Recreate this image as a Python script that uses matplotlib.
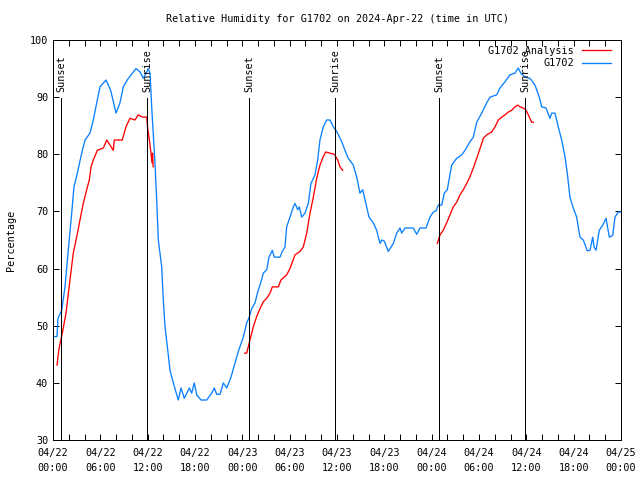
import matplotlib
matplotlib.use("Agg")
import matplotlib.pyplot as plt

# ---- data (hours since 2024-04-22 00:00 UTC) ----
obs_hours = [0.0, 0.51, 0.63, 1.10, 1.52, 1.90, 2.37, 2.66, 3.08, 3.64, 4.06, 4.69, 5.11, 5.54, 5.96,
             6.72, 7.31, 7.99, 8.49, 8.91, 9.55, 10.52, 11.03, 11.45, 11.88, 12.08, 12.30, 12.51,
             12.68, 12.93, 13.14, 13.35, 13.78, 13.98, 14.20, 14.54, 14.83, 15.25, 15.88, 16.23,
             16.64, 17.28, 17.58, 17.91, 18.22, 18.76, 19.48, 20.12, 20.45, 20.75, 21.17, 21.59,
             22.02, 22.56, 23.07, 23.49, 24.12, 24.55, 24.85, 25.19, 25.61, 25.95, 26.37, 26.66,
             27.09, 27.38, 27.80, 28.05, 28.77, 29.07, 29.41, 29.62, 30.04, 30.46, 30.68, 31.02,
             31.22, 31.53, 31.94, 32.36, 32.70, 33.21, 33.55, 33.84, 34.26, 34.69, 35.11, 35.53,
             35.96, 36.60, 37.01, 37.43, 38.07, 38.50, 38.91, 39.26, 39.76, 40.06, 40.60, 41.03,
             41.45, 41.67, 42.00, 42.50, 43.14, 43.57, 43.99, 44.20, 44.62, 45.67, 46.10, 46.52,
             47.28, 47.79, 48.21, 48.55, 48.84, 49.27, 49.60, 49.98, 50.54, 51.17, 51.81, 52.23,
             52.86, 53.28, 53.71, 54.34, 54.98, 55.39, 56.24, 56.66, 57.30, 57.93, 58.56, 58.98,
             59.29, 59.83, 60.46, 61.10, 61.64, 61.95, 62.49, 63.00, 63.21, 63.63, 64.05, 64.48,
             64.90, 65.19, 65.53, 65.95, 66.38, 66.80, 67.22, 67.73, 68.07, 68.41, 68.58, 68.83,
             69.25, 69.68, 70.10, 70.52, 70.95, 71.24, 71.66, 71.96]
obs_rh = [48.1, 48.1, 51.3, 52.7, 56.8, 62.7, 69.7, 74.3, 76.7, 80.2, 82.5, 83.7, 86.0, 89.0, 91.8,
          93.0, 91.2, 87.2, 89.0, 91.8, 93.3, 95.0, 94.4, 93.3, 94.4, 95.0, 94.2, 88.3,
          84.2, 78.4, 72.0, 65.0, 60.3, 54.5, 49.8, 45.8, 42.2, 40.0, 37.0, 39.1,
          37.3, 39.1, 38.2, 40.0, 37.9, 37.0, 37.0, 38.2, 39.1, 38.0, 38.0, 40.0,
          39.1, 41.0, 43.5, 45.5, 48.0, 50.5, 51.4, 53.0, 54.0, 55.9, 57.7, 59.2,
          59.8, 62.0, 63.2, 62.0, 62.0, 63.0, 63.8, 67.3, 69.0, 70.8, 71.4, 70.3,
          70.8, 69.0, 69.7, 71.4, 74.9, 76.4, 79.0, 82.5, 84.8, 86.0, 86.0, 84.8,
          84.0, 82.2, 80.7, 79.3, 78.1, 76.0, 73.2, 73.8, 70.8, 69.0, 68.0, 66.7,
          64.4, 65.0, 64.8, 63.0, 64.4, 66.2, 67.1, 66.2, 67.1, 67.1, 66.0, 67.1,
          67.1, 69.0, 69.9, 70.1, 71.1, 71.1, 73.2, 73.8, 78.1, 79.3, 79.9, 80.7,
          82.2, 83.0, 85.6, 87.2, 89.0, 90.0, 90.4, 91.6, 92.7, 93.9, 94.2, 95.1,
          94.2, 93.5, 93.3, 92.1, 90.0, 88.3, 88.1, 86.3, 87.2, 87.2, 84.8, 82.5,
          79.6, 76.7, 72.5, 70.6, 69.0, 65.5, 65.0, 63.1, 63.2, 65.5, 63.8, 63.2,
          66.7, 67.6, 68.8, 65.5, 65.8, 69.0, 69.9, 69.9]

ana1_hours = [0.51, 0.76, 1.18, 1.65, 2.15, 2.57, 3.00, 3.42, 3.84, 4.27, 4.60, 4.82, 5.11, 5.62,
              6.38, 6.81, 7.23, 7.64, 7.77, 8.78, 9.25, 9.76, 10.39, 10.81, 11.37, 11.88, 12.00,
              12.21, 12.42, 12.55, 12.62, 12.70]
ana1_rh = [43.1, 46.0, 48.7, 52.2, 58.0, 62.7, 65.5, 68.5, 71.4, 73.8, 75.5, 77.8, 79.0, 80.7,
           81.1, 82.5, 81.6, 80.7, 82.5, 82.5, 84.8, 86.3, 86.0, 86.9, 86.5, 86.5, 84.6,
           82.5, 80.2, 78.5, 80.2, 77.8]
ana2_hours = [24.30, 24.55, 24.97, 25.39, 25.82, 26.24, 26.66, 27.09, 27.51, 27.80, 28.56, 28.90,
              29.62, 30.04, 30.68, 31.31, 31.73, 32.16, 32.58, 33.00, 33.43, 33.84, 34.26, 34.57,
              35.11, 35.66, 36.09, 36.38, 36.72]
ana2_rh = [45.2, 45.2, 47.5, 49.8, 51.6, 53.0, 54.2, 54.8, 55.7, 56.8, 56.8, 58.0,
           58.9, 60.0, 62.4, 63.0, 63.8, 66.2, 69.7, 72.5, 75.8, 78.1, 79.6, 80.4,
           80.2, 80.0, 79.0, 77.8, 77.2]
ana3_hours = [48.71, 49.06, 49.47, 49.90, 50.32, 50.74, 51.17, 51.59, 52.01, 52.44, 52.86, 53.28,
              53.71, 54.13, 54.55, 54.98, 55.61, 56.03, 56.45, 56.88, 57.30, 57.72, 58.14, 58.56,
              58.90, 59.20, 59.61, 59.96, 60.25, 60.68, 60.88]
ana3_rh = [64.4, 65.9, 66.7, 68.0, 69.4, 70.8, 71.6, 72.9, 73.8, 74.9, 76.1, 77.6,
           79.3, 81.0, 82.8, 83.4, 83.9, 84.8, 86.0, 86.5, 86.9, 87.4, 87.7, 88.3,
           88.6, 88.3, 88.1, 87.7, 86.9, 85.6, 85.6]

sun_hours = [1.01, 11.92, 24.85, 35.75, 48.93, 59.83]
sun_labels = ["Sunset", "Sunrise", "Sunset", "Sunrise", "Sunset", "Sunrise"]

tick_hours = [0, 6, 12, 18, 24, 30, 36, 42, 48, 54, 60, 66, 72]
tick_labels = ["04/22\n00:00", "04/22\n06:00", "04/22\n12:00", "04/22\n18:00",
               "04/23\n00:00", "04/23\n06:00", "04/23\n12:00", "04/23\n18:00",
               "04/24\n00:00", "04/24\n06:00", "04/24\n12:00", "04/24\n18:00",
               "04/25\n00:00"]

title = "Relative Humidity for G1702 on 2024-Apr-22 (time in UTC)"

# ---- plot ----
plt.rcParams['font.family'] = ['DejaVu Sans Mono']
FS = 7.3
RED = '#ff0000'
BLUE = '#0a80ff'
LW = 0.72

fig = plt.figure(figsize=(6.4, 4.8), dpi=100)
ax = fig.add_axes([53/640, 40/480, (621-53)/640, 400/480])

l1, = ax.plot(ana1_hours, ana1_rh, color=RED, lw=0.95, label="G1702 Analysis")
ax.plot(ana2_hours, ana2_rh, color=RED, lw=0.95)
ax.plot(ana3_hours, ana3_rh, color=RED, lw=0.95)
l2, = ax.plot(obs_hours, obs_rh, color=BLUE, lw=0.95, label="G1702")

ax.vlines(sun_hours, 30, 89.85, color='black', lw=LW, antialiased=False)
for t, lab in zip(sun_hours, sun_labels):
    ax.text(t, 90.9, lab, rotation=90, ha='center', va='bottom', fontsize=FS)

ax.set_xlim(0, 72)
ax.set_ylim(30, 100)
ax.set_xticks(tick_hours)
ax.set_xticklabels(tick_labels, fontsize=FS, linespacing=1.6)
ax.set_xticks(range(0, 73, 2), minor=True)
ax.set_yticks(range(30, 101, 10))
ax.tick_params(axis='both', which='both', direction='in', top=True, right=True, length=4, width=LW,
               labelsize=FS)
ax.tick_params(axis='x', which='major', pad=6)
ax.set_ylabel("Percentage", fontsize=FS, labelpad=10)
for s in ax.spines.values():
    s.set_linewidth(LW)

leg = ax.legend(handles=[l1, l2], loc='upper right', frameon=False, fontsize=FS,
                markerfirst=False, handlelength=2.9, handletextpad=0.8,
                borderaxespad=0.0, labelspacing=0.25,
                bbox_to_anchor=(1 - 5.5/568, 1 - 1.5/400))
for h in leg.legend_handles:
    h.set_linewidth(0.95)

fig.text(337/640, 1 - 19/480, title, ha='center', va='center', fontsize=FS)

fig.savefig("out.png", dpi=100)
